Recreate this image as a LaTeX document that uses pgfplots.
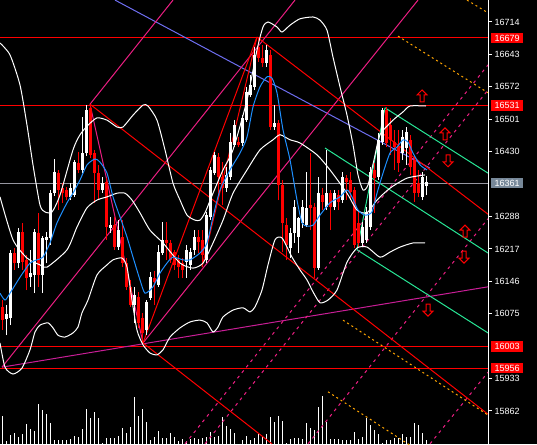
\documentclass[border=0pt]{standalone}
\usepackage{pgfplots}
\pgfplotsset{compat=1.18}
\usepackage{pgfplotstable}
\usepackage{fontspec}
\setmainfont{Liberation Sans}

\definecolor{mtred}{RGB}{255,0,0}
\definecolor{pinkline}{RGB}{235,30,130}
\definecolor{violetline}{RGB}{200,30,150}
\definecolor{slateline}{RGB}{110,110,240}
\definecolor{maline}{RGB}{30,144,255}
\definecolor{chanline}{RGB}{40,230,150}
\definecolor{fibo}{RGB}{255,165,0}
\definecolor{levgray}{RGB}{150,150,160}
\definecolor{boxgray}{RGB}{119,136,153}

\tikzset{boxlab/.style={anchor=west,xshift=3pt,text=white,font=\fontsize{9}{10}\selectfont,
		inner xsep=3.3pt,inner ysep=2pt,text height=6.6pt,text depth=0pt}}

% hollow signal arrows
\pgfdeclareplotmark{uarr}{%
  \pgfpathmoveto{\pgfqpoint{0pt}{6pt}}%
  \pgfpathlineto{\pgfqpoint{5pt}{1pt}}%
  \pgfpathlineto{\pgfqpoint{2pt}{1pt}}%
  \pgfpathlineto{\pgfqpoint{2pt}{-6pt}}%
  \pgfpathlineto{\pgfqpoint{-2pt}{-6pt}}%
  \pgfpathlineto{\pgfqpoint{-2pt}{1pt}}%
  \pgfpathlineto{\pgfqpoint{-5pt}{1pt}}%
  \pgfpathclose\pgfusepathqstroke}
\pgfdeclareplotmark{darr}{%
  \pgfpathmoveto{\pgfqpoint{0pt}{-6pt}}%
  \pgfpathlineto{\pgfqpoint{5pt}{-1pt}}%
  \pgfpathlineto{\pgfqpoint{2pt}{-1pt}}%
  \pgfpathlineto{\pgfqpoint{2pt}{6pt}}%
  \pgfpathlineto{\pgfqpoint{-2pt}{6pt}}%
  \pgfpathlineto{\pgfqpoint{-2pt}{-1pt}}%
  \pgfpathlineto{\pgfqpoint{-5pt}{-1pt}}%
  \pgfpathclose\pgfusepathqstroke}

% down (red) candles: x open high low close
\pgfplotstableread{
x o h l c
2 16090 16105 16039 16061
14 16208 16219 16171 16186
22 16254 16274 16171 16188
26 16193 16204 16127 16153
38 16252 16296 16134 16160
58 16383 16390 16302 16346
62 16350 16361 16318 16339
66 16346 16353 16324 16331
78 16405 16429 16383 16390
90 16526 16534 16416 16423
94 16427 16434 16318 16383
98 16383 16401 16324 16346
106 16364 16372 16237 16265
114 16269 16287 16215 16221
122 16243 16280 16177 16186
126 16186 16197 16127 16134
130 16134 16149 16090 16094
138 16112 16123 16044 16055
142 16066 16077 16011 16033
154 16153 16169 16094 16145
166 16237 16276 16193 16230
170 16230 16237 16186 16193
174 16210 16215 16171 16182
178 16193 16204 16153 16177
182 16186 16197 16153 16171
198 16243 16258 16208 16232
202 16237 16258 16177 16204
218 16418 16427 16331 16375
222 16375 16407 16313 16350
238 16451 16462 16440 16445
258 16659 16681 16626 16635
262 16635 16664 16615 16624
270 16642 16653 16478 16484
278 16493 16499 16324 16357
282 16357 16368 16210 16274
286 16269 16285 16193 16226
310 16313 16427 16258 16307
314 16309 16318 16153 16175
322 16335 16350 16302 16320
330 16339 16346 16258 16309
338 16335 16346 16302 16320
346 16372 16379 16324 16364
350 16368 16385 16324 16342
354 16346 16353 16219 16226
358 16274 16298 16221 16230
374 16390 16405 16296 16372
386 16521 16528 16440 16449
390 16488 16504 16423 16456
394 16451 16478 16390 16440
398 16440 16478 16385 16405
410 16456 16467 16379 16396
414 16412 16423 16320 16339
418 16361 16390 16331 16339
}\dnc

% up (white) candles
\pgfplotstableread{
x o h l c
6 16063 16094 16028 16074
10 16066 16215 16050 16208
18 16186 16263 16175 16254
30 16155 16215 16134 16164
34 16160 16261 16120 16254
42 16160 16245 16120 16241
46 16237 16254 16186 16243
50 16241 16346 16226 16339
54 16339 16414 16333 16385
70 16331 16361 16324 16350
74 16335 16412 16331 16407
82 16390 16506 16383 16427
86 16427 16532 16421 16521
102 16346 16375 16339 16361
110 16263 16287 16252 16269
118 16221 16280 16215 16258
134 16094 16134 16055 16116
146 16039 16105 16028 16101
150 16110 16166 16105 16155
158 16138 16226 16134 16210
162 16208 16276 16204 16237
186 16188 16226 16153 16215
190 16182 16219 16171 16210
194 16215 16258 16204 16243
206 16193 16298 16186 16291
210 16287 16396 16280 16390
214 16383 16429 16379 16423
226 16350 16396 16342 16379
230 16375 16471 16368 16451
234 16445 16499 16440 16488
242 16449 16510 16442 16504
246 16499 16572 16495 16561
250 16554 16598 16550 16576
254 16572 16659 16565 16642
266 16624 16664 16615 16653
274 16484 16532 16478 16493
290 16219 16263 16197 16252
294 16252 16324 16230 16309
298 16243 16287 16208 16285
302 16274 16324 16263 16309
306 16269 16385 16265 16307
318 16175 16375 16171 16339
326 16309 16434 16302 16339
334 16309 16346 16302 16339
342 16324 16385 16318 16375
362 16230 16276 16221 16265
366 16237 16309 16230 16298
370 16265 16396 16258 16385
378 16375 16471 16368 16456
382 16451 16526 16445 16521
402 16427 16478 16412 16462
406 16438 16484 16401 16473
422 16331 16385 16324 16375
426 16355 16377 16335 16364
}\upc

% volume
\pgfplotstableread{
x v
2 28
6 3
10 9
14 11
18 7
22 10
26 20
30 15
34 13
38 40
42 34
46 30
50 21
54 4
58 4
62 4
66 4
70 5
74 8
78 7
82 15
86 35
90 26
94 32
98 26
102 1
106 6
110 6
114 6
118 8
122 16
126 11
130 17
134 47
138 28
142 35
146 22
150 4
154 7
158 13
162 6
166 6
170 11
174 7
178 3
182 5
186 3
190 5
194 6
198 5
202 6
206 7
210 12
214 7
218 8
222 27
226 18
230 15
234 11
242 4
246 8
250 4
254 6
258 10
262 7
266 10
270 27
274 22
278 28
282 23
286 1
290 5
294 6
298 6
302 5
306 21
310 16
314 14
318 37
322 48
326 22
330 5
334 5
338 5
342 4
346 4
350 4
354 12
358 5
362 7
366 26
370 19
374 14
378 10
382 1
386 4
390 4
394 6
398 6
402 10
406 7
410 7
414 21
418 19
422 11
426 4
}\vol

\begin{document}
\begin{tikzpicture}
\path[use as bounding box] (0,0) rectangle (537pt,444pt);
\fill[black] (0,0) rectangle (537pt,444pt);

% volume pane
\begin{axis}[
	width=488pt,height=444pt,scale only axis,
	xmin=0,xmax=488,ymin=0,ymax=444,
	hide axis]
\addplot[ycomb,white,line width=1pt] table[x=x,y=v] {\vol};
\end{axis}

\begin{axis}[
	width=488pt,height=444pt,scale only axis,
	xmin=0,xmax=488,ymin=15789.7,ymax=16762.2,
	axis x line=none,axis y line*=right,
	axis line style={white,line width=1pt},
	ytick={16714,16643,16572,16501,16430,16288,16217,16146,16075,15933,15862},
	yticklabels={16714,16643,16572,16501,16430,16288,16217,16146,16075,15933,15862},
	tick align=outside,major tick length=4pt,
	tick style={white,line width=1pt},
	yticklabel style={text=white,font=\fontsize{9}{10}\selectfont,inner sep=2.5pt},
	clip mode=individual]

% horizontal levels
\addplot[mtred,line width=1pt] coordinates {(0,16679) (488,16679)};
\addplot[mtred,line width=1pt] coordinates {(0,16531) (488,16531)};
\addplot[levgray,line width=1pt] coordinates {(0,16361) (488,16361)};
\addplot[mtred,line width=1pt] coordinates {(0,16003) (488,16003)};
\addplot[mtred,line width=1pt] coordinates {(0,15956) (488,15956)};

% trend lines and channels
\addplot[slateline,line width=1pt] coordinates {(115,16762) (430,16394)};
\addplot[pinkline,line width=1pt] coordinates {(2,15958) (295,16762)};
\addplot[pinkline,line width=1pt] coordinates {(90,16534) (173,16762)};
\addplot[pinkline,line width=1pt] coordinates {(90,16534) (143,16011)};
\addplot[pinkline,line width=1pt] coordinates {(143,16011) (418,16762)};
\addplot[violetline,line width=1pt] coordinates {(2,15958) (488,16134)};
\addplot[pinkline,line width=1pt,dash pattern=on 3pt off 4pt] coordinates {(185,15790) (488,16620)};
\addplot[pinkline,line width=1pt,dash pattern=on 3pt off 4pt] coordinates {(205,15790) (488,16565)};
\addplot[pinkline,line width=1pt,dash pattern=on 3pt off 4pt] coordinates {(308,15790) (488,16283)};
\addplot[pinkline,line width=1pt,dash pattern=on 3pt off 4pt] coordinates {(430,15790) (488,15947)};
\addplot[mtred,line width=1pt] coordinates {(90,16534) (488,15855)};
\addplot[mtred,line width=1pt] coordinates {(143,16011) (272,15790)};
\addplot[mtred,line width=1pt] coordinates {(257,16681) (488,16293)};
\addplot[mtred,line width=1pt] coordinates {(143,16011) (257,16681)};
\addplot[mtred,line width=1pt] coordinates {(202,16177) (257,16681)};
\addplot[chanline,line width=1pt] coordinates {(385,16526) (488,16383)};
\addplot[chanline,line width=1pt] coordinates {(325,16438) (488,16208)};
\addplot[chanline,line width=1pt] coordinates {(357,16215) (488,16033)};
\addplot[chanline,line width=1pt] coordinates {(357,16215) (385,16526)};
\addplot[fibo,line width=1pt,dash pattern=on 2pt off 3pt] coordinates {(398,16683) (488,16559)};
\addplot[fibo,line width=1pt,dash pattern=on 2pt off 3pt] coordinates {(467,16762) (488,16734)};
\addplot[fibo,line width=1pt,dash pattern=on 2pt off 3pt] coordinates {(343,16061) (488,15853)};
\addplot[fibo,line width=1pt,dash pattern=on 2pt off 3pt] coordinates {(328,15904) (417,15777)};

% candles: wicks then bodies
\addplot[mtred,line width=1pt,quiver={u=0,v=\thisrow{h}-\thisrow{l}}] table[x=x,y=l] {\dnc};
\addplot[mtred,line width=3pt,quiver={u=0,v=\thisrow{c}-\thisrow{o}}] table[x=x,y=o] {\dnc};
\addplot[white,line width=1pt,quiver={u=0,v=\thisrow{h}-\thisrow{l}}] table[x=x,y=l] {\upc};
\addplot[white,line width=3pt,quiver={u=0,v=\thisrow{c}-\thisrow{o}}] table[x=x,y=o] {\upc};

% bollinger bands
\addplot[white,line width=1pt,smooth,tension=0.4] coordinates {
(0,16668) (10,16642) (20,16576) (27,16488) (33,16401) (40,16313) (45,16298) (52,16298)
(60,16335) (73,16434) (80,16467) (88,16488) (97,16504) (107,16499) (117,16484) (123,16484)
(133,16510) (143,16532) (148,16530) (157,16499) (165,16434) (173,16361) (180,16324) (187,16291)
(195,16280) (200,16280) (205,16296) (213,16339) (223,16390) (233,16434) (247,16543) (257,16653)
(263,16703) (268,16714) (277,16703) (282,16692) (290,16707) (300,16721) (313,16725) (320,16718)
(327,16696) (333,16637) (340,16572) (347,16510) (353,16445) (358,16379) (363,16346) (368,16357)
(374,16412) (380,16467) (393,16499) (403,16517) (410,16530) (426,16530)};
\addplot[white,line width=1pt,smooth,tension=0.4] coordinates {
(0,16331) (13,16237) (27,16197) (40,16182) (47,16177) (67,16215) (77,16265) (87,16307)
(97,16324) (107,16331) (117,16339) (125,16339) (132,16324) (140,16296) (150,16258) (163,16230)
(180,16186) (193,16175) (203,16186) (213,16230) (223,16280) (233,16339) (247,16390) (260,16434)
(273,16456) (280,16467) (290,16456) (300,16449) (317,16423) (330,16390) (347,16339) (357,16302)
(367,16296) (377,16324) (390,16350) (407,16372) (425,16379)};
\addplot[white,line width=1pt,smooth,tension=0.4] coordinates {
(0,16011) (5,15958) (13,15943) (22,15956) (30,15996) (35,16035) (40,16050) (48,16055)
(53,16044) (58,16028) (65,16024) (73,16033) (78,16046) (82,16077) (88,16105) (97,16160)
(107,16182) (113,16193) (122,16197) (127,16177) (132,16105) (137,16039) (143,16007) (150,15989)
(157,15985) (163,15996) (170,16024) (180,16044) (190,16057) (200,16061) (207,16055) (213,16035)
(218,16046) (223,16068) (233,16083) (243,16088) (250,16079) (255,16090) (262,16127) (268,16182)
(275,16237) (282,16241) (292,16199) (300,16171) (307,16149) (313,16123) (320,16099) (328,16105)
(337,16127) (347,16188) (357,16219) (367,16221) (380,16199) (390,16210) (400,16221) (413,16230)
(425,16230)};

% moving average
\addplot[maline,line width=1pt,smooth,tension=0.4] coordinates {
(0,16120) (5,16105) (10,16120) (20,16155) (30,16186) (37,16193) (43,16199) (50,16230)
(57,16274) (67,16318) (73,16339) (80,16368) (87,16401) (95,16414) (100,16407) (107,16383)
(113,16331) (120,16287) (127,16243) (133,16199) (140,16149) (145,16120) (153,16134) (160,16164)
(167,16186) (173,16199) (183,16193) (190,16193) (200,16208) (207,16230) (213,16287) (220,16346)
(230,16390) (240,16427) (247,16462) (253,16528) (260,16572) (267,16594) (272,16591) (277,16559)
(283,16478) (290,16412) (297,16324) (302,16274) (307,16267) (313,16269) (320,16291) (330,16318)
(340,16331) (347,16346) (352,16331) (358,16302) (365,16291) (372,16298) (377,16339) (383,16383)
(390,16427) (397,16440) (403,16456) (408,16451) (413,16427) (420,16401) (427,16390)};

% signal arrows
\addplot[only marks,mark=uarr,mtred,line width=1pt] coordinates {(422,16552) (445,16469) (465,16256)};
\addplot[only marks,mark=darr,mtred,line width=1pt] coordinates {(448,16410) (464,16199) (428,16083)};

% price labels on the scale
\node[boxlab,fill=mtred] at (axis cs:488,16679) {16679};
\node[boxlab,fill=mtred] at (axis cs:488,16531) {16531};
\node[boxlab,fill=boxgray] at (axis cs:488,16361) {16361};
\node[boxlab,fill=mtred] at (axis cs:488,16003) {16003};
\node[boxlab,fill=mtred] at (axis cs:488,15956) {15956};
\end{axis}
\end{tikzpicture}
\end{document}
